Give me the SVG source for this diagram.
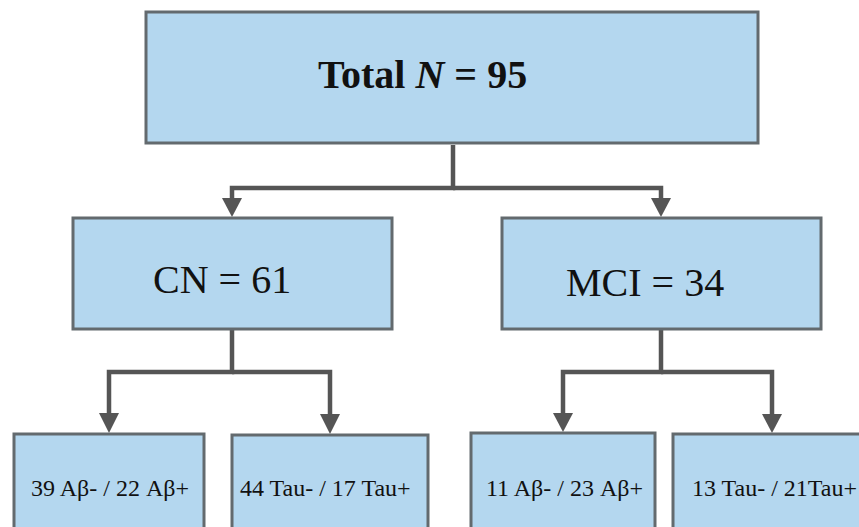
<svg xmlns="http://www.w3.org/2000/svg" width="859" height="527" viewBox="0 0 859 527">
<style>
.box{fill:#b4d7ef;stroke:#636a6e;stroke-width:3}
.lbl{font-family:"Liberation Serif","Times New Roman",serif;fill:#111}
.big{font-size:40px}
.sm{font-size:24px}
.con{fill:none;stroke:#555;stroke-width:4.5;stroke-linejoin:miter}
</style>
<defs>
<marker id="ah" markerUnits="userSpaceOnUse" markerWidth="20" markerHeight="19" refX="10" refY="19" orient="auto-start-reverse" viewBox="0 0 20 19">
<path d="M0,0 L20,0 L10,19 Z" fill="#555"/>
</marker>
</defs>
<rect width="859" height="527" fill="#fff"/>
<g id="connectors">
<path class="con" d="M453,145 V188 H232 V199"/>
<path class="con" d="M453,188 H661 V199"/>
<path class="con" d="M232,329 V372 H109 V414"/>
<path class="con" d="M232,372 H330 V414"/>
<path class="con" d="M661,329 V372 H563 V414"/>
<path class="con" d="M661,372 H772 V414"/>
<g fill="#555">
<path d="M222,198 L242,198 L232,217 Z"/>
<path d="M651,198 L671,198 L661,217 Z"/>
<path d="M99,413 L119,413 L109,433 Z"/>
<path d="M320,414 L340,414 L330,434 Z"/>
<path d="M553,413 L573,413 L563,432 Z"/>
<path d="M762,414 L782,414 L772,433 Z"/>
</g>
</g>
<g id="total">
<rect class="box" x="146" y="12" width="612" height="131"/>
<text class="lbl big" x="318" y="88" font-weight="bold">Total <tspan font-style="italic">N</tspan> = 95</text>
</g>
<g id="cn">
<rect class="box" x="73" y="218" width="319" height="111"/>
<text class="lbl big" x="153" y="293">CN = 61</text>
</g>
<g id="mci">
<rect class="box" x="502" y="218" width="319" height="111"/>
<text class="lbl big" x="566" y="296">MCI = 34</text>
</g>
<g id="cn-abeta">
<rect class="box" x="14" y="434" width="190" height="110"/>
<text class="lbl sm" x="31" y="496">39 Aβ- / 22 Aβ+</text>
</g>
<g id="cn-tau">
<rect class="box" x="232" y="435" width="196" height="110"/>
<text class="lbl sm" x="240" y="496">44 Tau- / 17 Tau+</text>
</g>
<g id="mci-abeta">
<rect class="box" x="471" y="433" width="184" height="110"/>
<text class="lbl sm" x="486" y="496">11 Aβ- / 23 Aβ+</text>
</g>
<g id="mci-tau">
<rect class="box" x="673" y="434" width="200" height="110"/>
<text class="lbl sm" x="692" y="496">13 Tau- / 21Tau+</text>
</g>
</svg>
